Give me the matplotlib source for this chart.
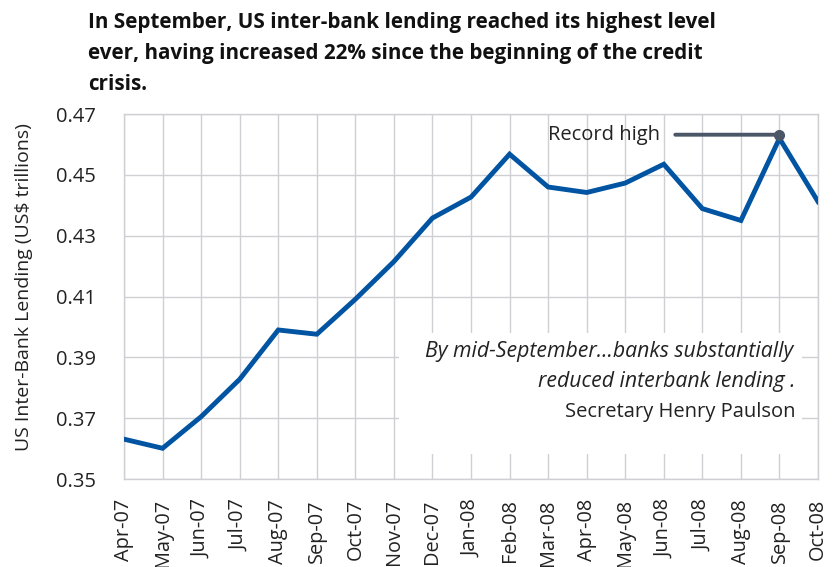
import matplotlib
matplotlib.use("Agg")
import matplotlib.pyplot as plt
from matplotlib.patches import Rectangle

months = ["Apr-07", "May-07", "Jun-07", "Jul-07", "Aug-07", "Sep-07", "Oct-07",
          "Nov-07", "Dec-07", "Jan-08", "Feb-08", "Mar-08", "Apr-08", "May-08",
          "Jun-08", "Jul-08", "Aug-08", "Sep-08", "Oct-08"]
lending = [0.3631, 0.3601, 0.3705, 0.3828, 0.3990, 0.3976, 0.4091, 0.4215,
           0.4358, 0.4427, 0.4568, 0.4460, 0.4442, 0.4473, 0.4535, 0.4389,
           0.4350, 0.4620, 0.4412]
yticks = [0.35, 0.37, 0.39, 0.41, 0.43, 0.45, 0.47]
record_label = "Record high"
record_month = "Sep-08"
record_value = 0.4632

title = ("In September, US inter-bank lending reached its highest level\n"
         "ever, having increased 22% since the beginning of the credit\n"
         "crisis.")
ylabel = "US Inter-Bank Lending (US$ trillions)"
quote_lines = ["By mid-September\u2026banks substantially",
               "reduced interbank lending .",
               "Secretary Henry Paulson"]

plt.rcParams['font.family'] = ['Open Sans', 'DejaVu Sans']

fig = plt.figure(figsize=(8.33, 5.67), dpi=100)
ax = fig.add_axes([0.1489, 0.1552, 0.8331, 0.6437])

x = list(range(len(months)))
ax.plot(x, lending, color="#0054a2", lw=3.5, solid_joinstyle="miter", zorder=4)

ax.set_xlim(0, len(months) - 1)
ax.set_ylim(yticks[0], yticks[-1])
ax.set_yticks(yticks)
ax.set_yticklabels([f"{v:.2f}" for v in yticks], fontsize=14.5, color="#222222")
ax.set_xticks(x)
ax.set_xticklabels(months, rotation=90, fontsize=14.3, color="#222222",
                   va="top", ha="center")
ax.tick_params(length=0)
ax.tick_params(axis="x", pad=14.5)
ax.tick_params(axis="y", pad=20)

grid_c = "#cfd0d4"
ax.grid(True, color=grid_c, lw=1, zorder=0)
for s in ax.spines.values():
    s.set_color(grid_c)
    s.set_linewidth(1)

ax.set_ylabel(ylabel, fontsize=14, color="#222222")
ax.yaxis.set_label_coords(-0.131, 0.525)

# white quote box covering grid
ax.add_patch(Rectangle((0.396, 0.068), 0.581, 0.332, transform=ax.transAxes,
                       facecolor="white", edgecolor="none", zorder=2))
ax.text(0.964, 0.335, quote_lines[0], transform=ax.transAxes, ha="right",
        va="baseline", fontsize=15.3, style="italic", color="#222222", zorder=5)
ax.text(0.967, 0.252, quote_lines[1], transform=ax.transAxes, ha="right",
        va="baseline", fontsize=15.3, style="italic", color="#222222", zorder=5)
ax.text(0.967, 0.170, quote_lines[2], transform=ax.transAxes, ha="right",
        va="baseline", fontsize=14.5, color="#222222", zorder=5)

# record high marker and label
ri = months.index(record_month)
ax.plot([ri], [record_value], marker="o", ms=7, color="#4b5766", zorder=6,
        clip_on=False)
ax.annotate(record_label, xy=(ri, record_value), xytext=(-86, 0),
            textcoords="offset points", ha="right", va="center",
            fontsize=14.5, color="#222222",
            arrowprops=dict(arrowstyle="-", color="#4b5766", lw=2.8,
                            relpos=(1, 0.5), shrinkA=9, shrinkB=0),
            zorder=6)

fig.text(0.1056, 0.978, title, ha="left", va="top", fontsize=14.9,
         fontweight="bold", linespacing=1.6, color="#111111")

fig.savefig("out.png", dpi=100)
